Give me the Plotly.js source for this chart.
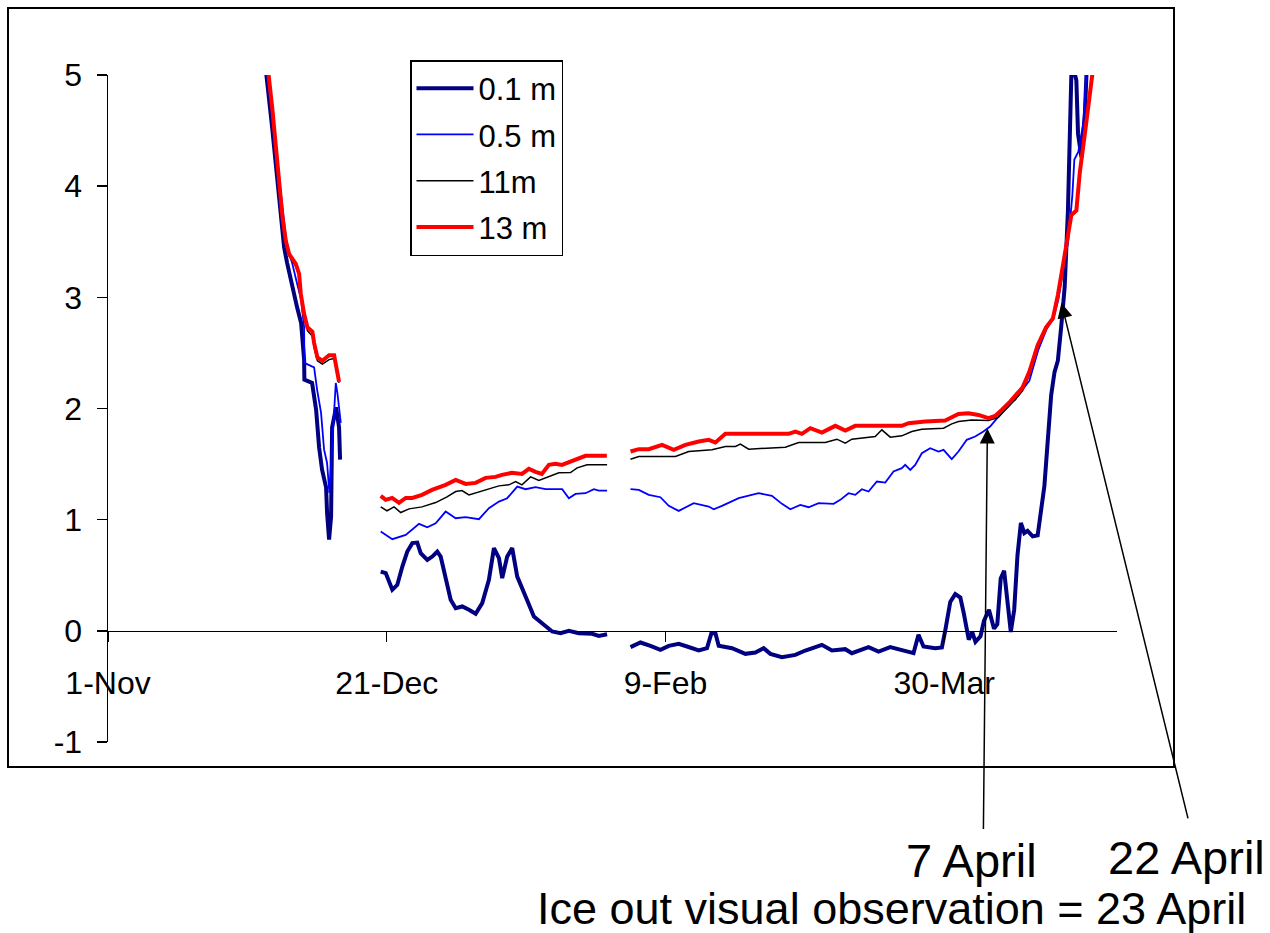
<!DOCTYPE html>
<html>
<head>
<meta charset="utf-8">
<script src="https://cdn.plot.ly/plotly-3.0.1.min.js"></script>
<style>
  html, body { margin: 0; padding: 0; background: #ffffff; }
  #chart { width: 1270px; height: 933px; }
</style>
</head>
<body>
<div id="chart"></div>
<script>
// Time is given in days after 1-Nov-2003 (winter 2003-2004); null marks a data gap.
const startDate = '2003-11-01';
const endDate = '2004-04-30';

const seriesNames = ['0.1 m', '0.5 m', '11m', '13 m'];

// 0.1 m
const days01 = [27.9, 28.37, 29.44, 30.16, 31.06, 31.59, 32.13, 33.03, 33.92, 34.64, 35.18, 35.23, 36.07, 36.61, 37.33, 37.87, 38.40, 39.12, 39.30, 39.66, 40.02, 40.20, 40.91, 41.45, 41.63,
  45,
  48.92, 49.82, 51.0, 51.90, 52.80, 53.69, 54.59, 55.48, 56.09, 57.28, 58.17, 59.07, 59.68, 60.57, 61.47, 62.37, 63.55, 64.75, 65.95, 67.13, 68.33, 69.23, 70.13, 70.72, 71.61, 72.51, 73.41, 74.91, 76.40, 78.19, 79.68, 81.18, 82.67, 84.46, 86.85, 88.05, 89.53,
  91.5,
  93.73, 95.52, 97.31, 99.10, 100.59, 102.38, 103.87, 105.97, 107.46, 108.24, 108.96, 109.55, 111.94, 114.34, 116.13, 117.62, 118.82, 120.90, 123.30, 125.09, 128.06, 129.86, 132.26, 133.44, 136.43, 138.23, 140.32, 142.40, 144.50, 145.39, 146.29, 148.39, 149.59, 150.18, 151.09, 151.99, 152.90, 153.51, 154.41, 155.02, 155.61, 156.51, 157.13, 158.03, 158.94, 159.53, 160.14, 160.75, 161.34, 161.95, 162.56, 163.15, 163.76, 164.37, 164.96, 165.88, 166.77, 167.38, 167.97, 168.58, 169.19, 169.80, 170.39, 171.00, 171.61, 172.20, 172.63, 172.81, 173.2, 173.71, 174.01, 174.62, 175.23, 175.50, 176.0];
const temp01 = [5.6, 5.02, 4.53, 4.17, 3.70, 3.45, 3.31, 3.09, 2.91, 2.77, 2.44, 2.26, 2.24, 2.23, 1.99, 1.65, 1.45, 1.29, 1.06, 0.82, 1.03, 1.83, 2.01, 1.83, 1.54,
  null,
  0.533, 0.519, 0.369, 0.414, 0.578, 0.713, 0.789, 0.794, 0.699, 0.638, 0.668, 0.713, 0.668, 0.459, 0.279, 0.204, 0.219, 0.189, 0.153, 0.249, 0.459, 0.744, 0.654, 0.474, 0.668, 0.744, 0.488, 0.308, 0.129, 0.054, -0.006, -0.021, 0.0, -0.021, -0.027, -0.045, -0.030,
  null,
  -0.147, -0.105, -0.135, -0.171, -0.135, -0.117, -0.141, -0.177, -0.156, -0.021, -0.021, -0.135, -0.156, -0.207, -0.195, -0.156, -0.207, -0.237, -0.216, -0.177, -0.126, -0.177, -0.165, -0.201, -0.147, -0.186, -0.147, -0.177, -0.201, -0.036, -0.141, -0.156, -0.15, 0.0, 0.26, 0.33, 0.30, 0.16, -0.08, -0.01, -0.1, -0.05, 0.09, 0.19, 0.02, 0.06, 0.47, 0.54, 0.26, -0.01, 0.19, 0.68, 0.97, 0.88, 0.90, 0.85, 0.86, 1.09, 1.30, 1.71, 2.12, 2.33, 2.43, 2.74, 3.09, 3.78, 4.47, 5.0, 5.06, 4.95, 4.47, 4.26, 4.64, 5.02, 5.6];

// 0.5 m
const days05 = [28.0, 28.55, 29.44, 30.34, 31.24, 31.96, 32.49, 33.03, 33.74, 34.64, 35.18, 35.23, 36.08, 36.97, 37.51, 38.22, 38.76, 39.30, 39.71, 40.38, 40.86, 41.15, 41.76,
  45,
  48.92, 51.0, 53.41, 54.59, 55.79, 57.28, 58.78, 60.57, 62.37, 64.16, 66.54, 68.33, 70.13, 71.61, 73.41, 74.91, 76.70, 78.49, 81.47, 82.67, 83.87, 85.66, 87.15, 88.05, 89.53,
  91.5,
  93.73, 95.22, 97.01, 99.10, 100.59, 102.38, 105.07, 107.76, 108.66, 110.14, 113.14, 116.72, 119.10, 120.90, 122.40, 124.19, 125.68, 127.47, 130.16, 131.36, 132.85, 134.05, 135.23, 136.43, 137.92, 139.43, 140.91, 142.40, 143.01, 143.91, 144.80, 145.99, 147.49, 148.98, 149.88, 151.36, 152.56, 154.05, 155.56, 157.04, 158.24, 159.73, 161.83, 163.31, 165.29, 166.90, 168.33, 169.59, 170.48, 171.38, 172.28, 172.99, 173.35, 174.07, 174.96, 175.50, 176.0];
const temp05 = [5.6, 5.02, 4.64, 4.24, 3.79, 3.52, 3.40, 3.31, 3.16, 2.98, 2.73, 2.41, 2.39, 2.37, 2.17, 1.96, 1.63, 1.51, 1.24, 1.87, 2.23, 2.14, 1.87,
  null,
  0.893, 0.824, 0.863, 0.908, 0.962, 0.932, 0.968, 1.073, 1.013, 1.022, 1.004, 1.103, 1.163, 1.193, 1.298, 1.274, 1.292, 1.274, 1.274, 1.193, 1.232, 1.238, 1.274, 1.262, 1.262,
  null,
  1.274, 1.268, 1.223, 1.202, 1.124, 1.079, 1.148, 1.118, 1.094, 1.124, 1.193, 1.238, 1.214, 1.142, 1.094, 1.133, 1.112, 1.148, 1.142, 1.178, 1.238, 1.223, 1.274, 1.253, 1.343, 1.334, 1.433, 1.463, 1.493, 1.448, 1.493, 1.598, 1.643, 1.613, 1.628, 1.544, 1.613, 1.718, 1.748, 1.793, 1.838, 1.927, 2.032, 2.12, 2.25, 2.53, 2.71, 2.81, 2.98, 3.25, 3.52, 3.92, 4.24, 4.31, 4.57, 5.02, 5.6];

// 11 m
const days11 = [28.3, 28.78, 29.50, 30.11, 30.70, 31.29, 31.90, 32.49, 33.69, 34.28, 34.59, 35.18, 35.77, 36.67, 36.97, 37.56, 38.46, 39.66, 40.56, 40.97, 41.45,
  45,
  48.92, 50.05, 51.31, 52.51, 54.0, 56.33, 58.78, 60.81, 62.37, 63.49, 64.75, 65.95, 67.74, 70.13, 71.92, 73.12, 74.25, 75.81, 77.29, 79.09, 80.88, 82.97, 84.16, 85.95, 89.53,
  91.5,
  93.73, 95.22, 101.79, 104.18, 108.35, 110.75, 112.54, 113.44, 114.93, 121.51, 123.89, 128.67, 130.75, 132.26, 133.44, 137.63, 138.82, 140.32, 142.40, 144.19, 145.99, 149.88, 151.36, 152.56, 154.95, 157.94, 159.73, 161.83, 162.78, 164.07, 165.27, 166.77, 168.28, 169.50, 170.39, 171.31, 172.20, 172.81, 173.71, 174.32, 175.23, 176.13, 176.61, 177.2];
const temp11 = [5.5, 5.0, 4.67, 4.31, 3.98, 3.71, 3.49, 3.37, 3.28, 3.19, 3.01, 2.83, 2.70, 2.65, 2.55, 2.43, 2.40, 2.44, 2.45, 2.35, 2.23,
  null,
  1.115, 1.08, 1.115, 1.064, 1.097, 1.115, 1.154, 1.205, 1.253, 1.262, 1.223, 1.241, 1.268, 1.304, 1.313, 1.343, 1.313, 1.385, 1.352, 1.388, 1.421, 1.424, 1.466, 1.493, 1.493,
  null,
  1.544, 1.568, 1.568, 1.613, 1.628, 1.658, 1.658, 1.679, 1.634, 1.652, 1.694, 1.694, 1.724, 1.688, 1.724, 1.748, 1.808, 1.742, 1.754, 1.793, 1.814, 1.823, 1.862, 1.883, 1.897, 1.891, 1.92, 2.04, 2.08, 2.16, 2.30, 2.55, 2.72, 2.80, 3.01, 3.28, 3.56, 3.73, 3.77, 4.11, 4.46, 4.80, 5.01, 5.6];

// 13 m
const days13 = [28.3, 28.78, 29.50, 30.11, 30.70, 31.29, 31.90, 32.49, 33.69, 34.28, 34.59, 35.18, 35.77, 36.67, 36.97, 37.56, 38.46, 39.66, 40.56, 40.97, 41.45,
  45,
  48.92, 49.82, 50.97, 52.2, 53.41, 54.59, 56.33, 58.12, 60.57, 62.37, 64.16, 65.95, 67.74, 69.53, 70.66, 72.46, 74.25, 75.50, 76.70, 77.83, 79.09, 80.29, 81.42, 83.20, 85.66, 89.48,
  91.5,
  93.73, 95.22, 97.01, 99.39, 101.49, 103.58, 105.97, 107.76, 108.96, 110.75, 115.52, 122.10, 123.30, 124.48, 125.99, 128.06, 130.47, 132.26, 134.05, 142.40, 143.60, 146.59, 150.18, 152.56, 154.35, 156.15, 157.94, 159.14, 160.32, 161.83, 164.07, 165.27, 166.77, 168.28, 169.50, 170.39, 171.31, 172.20, 172.81, 173.71, 174.32, 175.23, 176.13, 176.61, 177.2];
const temp13 = [5.5, 5.015, 4.685, 4.326, 3.996, 3.726, 3.507, 3.39, 3.30, 3.21, 3.03, 2.85, 2.73, 2.69, 2.59, 2.46, 2.43, 2.48, 2.48, 2.37, 2.24,
  null,
  1.214, 1.178, 1.196, 1.151, 1.196, 1.196, 1.223, 1.268, 1.313, 1.358, 1.322, 1.331, 1.376, 1.385, 1.403, 1.421, 1.412, 1.457, 1.43, 1.412, 1.493, 1.502, 1.493, 1.529, 1.574, 1.574,
  null,
  1.613, 1.634, 1.634, 1.673, 1.628, 1.673, 1.703, 1.718, 1.694, 1.772, 1.772, 1.772, 1.793, 1.772, 1.823, 1.784, 1.844, 1.802, 1.844, 1.844, 1.868, 1.883, 1.891, 1.95, 1.958, 1.942, 1.913, 1.933, 1.987, 2.062, 2.19, 2.33, 2.57, 2.73, 2.81, 3.02, 3.29, 3.57, 3.74, 3.78, 4.12, 4.47, 4.81, 5.02, 5.6];

const yTicks = [-1, 0, 1, 2, 3, 4, 5];

// Annotated events (date, temperature at arrow tip)
const eventLabels = ['7 April', '22 April'];
const eventDates = ['2004-04-06 18:00', '2004-04-20 00:30'];
const eventValues = [1.82, 2.95];
const footnote = 'Ice out visual observation = 23 April';

const base = Date.parse(startDate + 'T00:00:00Z');
const toX = arr => arr.map(d => base + d * 86400000);

const font = 'Liberation Sans, Arial, sans-serif';

const traces = [
  {x: toX(days01), y: temp01, name: seriesNames[0], line: {color: '#000080', width: 4}},
  {x: toX(days05), y: temp05, name: seriesNames[1], line: {color: '#0000FF', width: 1.8}},
  {x: toX(days11), y: temp11, name: seriesNames[2], line: {color: '#000000', width: 1.5}},
  {x: toX(days13), y: temp13, name: seriesNames[3], line: {color: '#FF0000', width: 4}}
].map((t, i) => Object.assign(t, {type: 'scatter', mode: 'lines', connectgaps: false, legendgroup: 'g' + i, hoverinfo: 'skip'}));

const L = 108, R = 1117, T = 75, B = 742;
const W = R - L, H = B - T;
const px = v => (v - L) / W;
const py = v => (B - v) / H;

const layout = {
  width: 1270, height: 933,
  margin: {l: L, r: 1270 - R, t: T, b: 933 - B},
  paper_bgcolor: '#ffffff', plot_bgcolor: '#ffffff',
  font: {family: font, size: 32, color: '#000000'},
  showlegend: true,
  legend: {
    x: px(410), y: py(60), xanchor: 'left', yanchor: 'top',
    bgcolor: '#ffffff', bordercolor: '#000000', borderwidth: 1.5,
    font: {family: font, size: 31, color: '#000000'},
    tracegroupgap: 3, itemwidth: 57
  },
  xaxis: {
    type: 'date', range: [startDate, endDate],
    tick0: startDate, dtick: 50 * 86400000, tickformat: '%-d-%b',
    ticks: 'outside', ticklen: 10, tickwidth: 1.5, tickcolor: '#000000',
    showline: true, linecolor: '#000000', linewidth: 1.5,
    showgrid: false, zeroline: false,
    anchor: 'free', position: 1 / 6,
    ticklabelstandoff: 13,
    tickfont: {family: font, size: 32, color: '#000000'}
  },
  yaxis: {
    range: [-1, 5], tickvals: yTicks, ticktext: yTicks.map(String),
    ticks: 'outside', ticklen: 10, tickwidth: 1.5, tickcolor: '#000000',
    showline: true, linecolor: '#000000', linewidth: 1.5,
    showgrid: false, zeroline: false,
    ticklabelstandoff: 8,
    tickfont: {family: font, size: 32, color: '#000000'}
  },
  shapes: [{
    type: 'rect', xref: 'paper', yref: 'paper',
    x0: px(8), x1: px(1174), y0: py(767), y1: py(8),
    line: {color: '#000000', width: 2}, fillcolor: 'rgba(0,0,0,0)', layer: 'below'
  }],
  annotations: [
    {x: eventDates[0], y: eventValues[0], xref: 'x', yref: 'y', text: '', showarrow: true,
     ax: -4, ay: 402, arrowhead: 2, arrowsize: 2, arrowwidth: 1.5, arrowcolor: '#000000', standoff: 0},
    {x: eventDates[1], y: eventValues[1], xref: 'x', yref: 'y', text: '', showarrow: true,
     ax: 127, ay: 517, arrowhead: 2, arrowsize: 2, arrowwidth: 1.5, arrowcolor: '#000000', standoff: 0},
    {x: px(971), y: py(860), xref: 'paper', yref: 'paper', text: eventLabels[0], showarrow: false,
     xanchor: 'center', yanchor: 'middle', font: {family: font, size: 47, color: '#000000'}},
    {x: px(1186), y: py(857), xref: 'paper', yref: 'paper', text: eventLabels[1], showarrow: false,
     xanchor: 'center', yanchor: 'middle', font: {family: font, size: 47, color: '#000000'}},
    {x: px(891), y: py(908), xref: 'paper', yref: 'paper', text: footnote, showarrow: false,
     xanchor: 'center', yanchor: 'middle', font: {family: font, size: 45, color: '#000000'}}
  ]
};

Plotly.newPlot('chart', traces, layout, {staticPlot: true, displayModeBar: false});
</script>
</body>
</html>
